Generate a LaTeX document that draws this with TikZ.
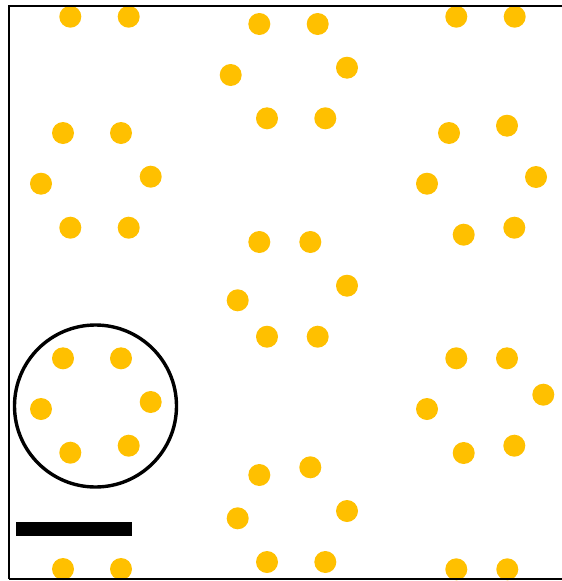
\documentclass[tikz,border=0pt]{standalone}
\definecolor{gold}{HTML}{FFC000}
\tikzset{
  dot/.style={circle, fill=gold, draw=none, minimum size=22pt, inner sep=0pt},
  frame/.style={draw=black, line width=2pt},
  ring/.style={circle, draw=black, line width=3.4pt, minimum size=162pt, inner sep=0pt},
  bar/.style={fill=black, draw=none, minimum width=116pt, minimum height=14pt, inner sep=0pt}
}
\begin{document}
\begin{tikzpicture}[x=1pt, y=-1pt]
\useasboundingbox (0,0) rectangle (562,581);
\foreach \px/\py [count=\i] in {
  70.3/16.7, 128.7/16.7,
  63/133, 121/133, 41/183.7, 150.7/176.7, 70.3/227.7, 128.7/227.7,
  63/358.3, 121/358.3, 41/409, 150.7/402, 70.3/452.7, 128.7/445.7,
  63/569, 121/569,
  259.3/24, 317.7/24, 230.7/75, 347/67.7, 267/118.3, 325.3/118.3,
  259.3/242, 310.3/242, 237.7/300.3, 347/285.7, 267/336.7, 317.7/336.7,
  259.3/475, 310.3/467.3, 237.7/518.3, 347/511, 267/562, 325.3/562,
  456.3/16.7, 514.7/16.7,
  449/133, 507/125.7, 427/183.7, 536/177, 463.7/234.7, 514.3/227.7,
  456.3/358.3, 507/358.3, 427/409, 543.3/394.7, 463.7/453, 514.3/445.7,
  456.3/569.3, 507.3/569.3}
  \node[dot] (d\i) at (\px,\py) {};
\node[ring] (ring) at (95.5,406) {};
\node[bar] (scalebar) at (74,529) {};
\draw[frame] (8.5,579) -- (8.5,5.5) -- (575,5.5);
\draw[frame] (8.5,579) -- (575,579);
\end{tikzpicture}
\end{document}
